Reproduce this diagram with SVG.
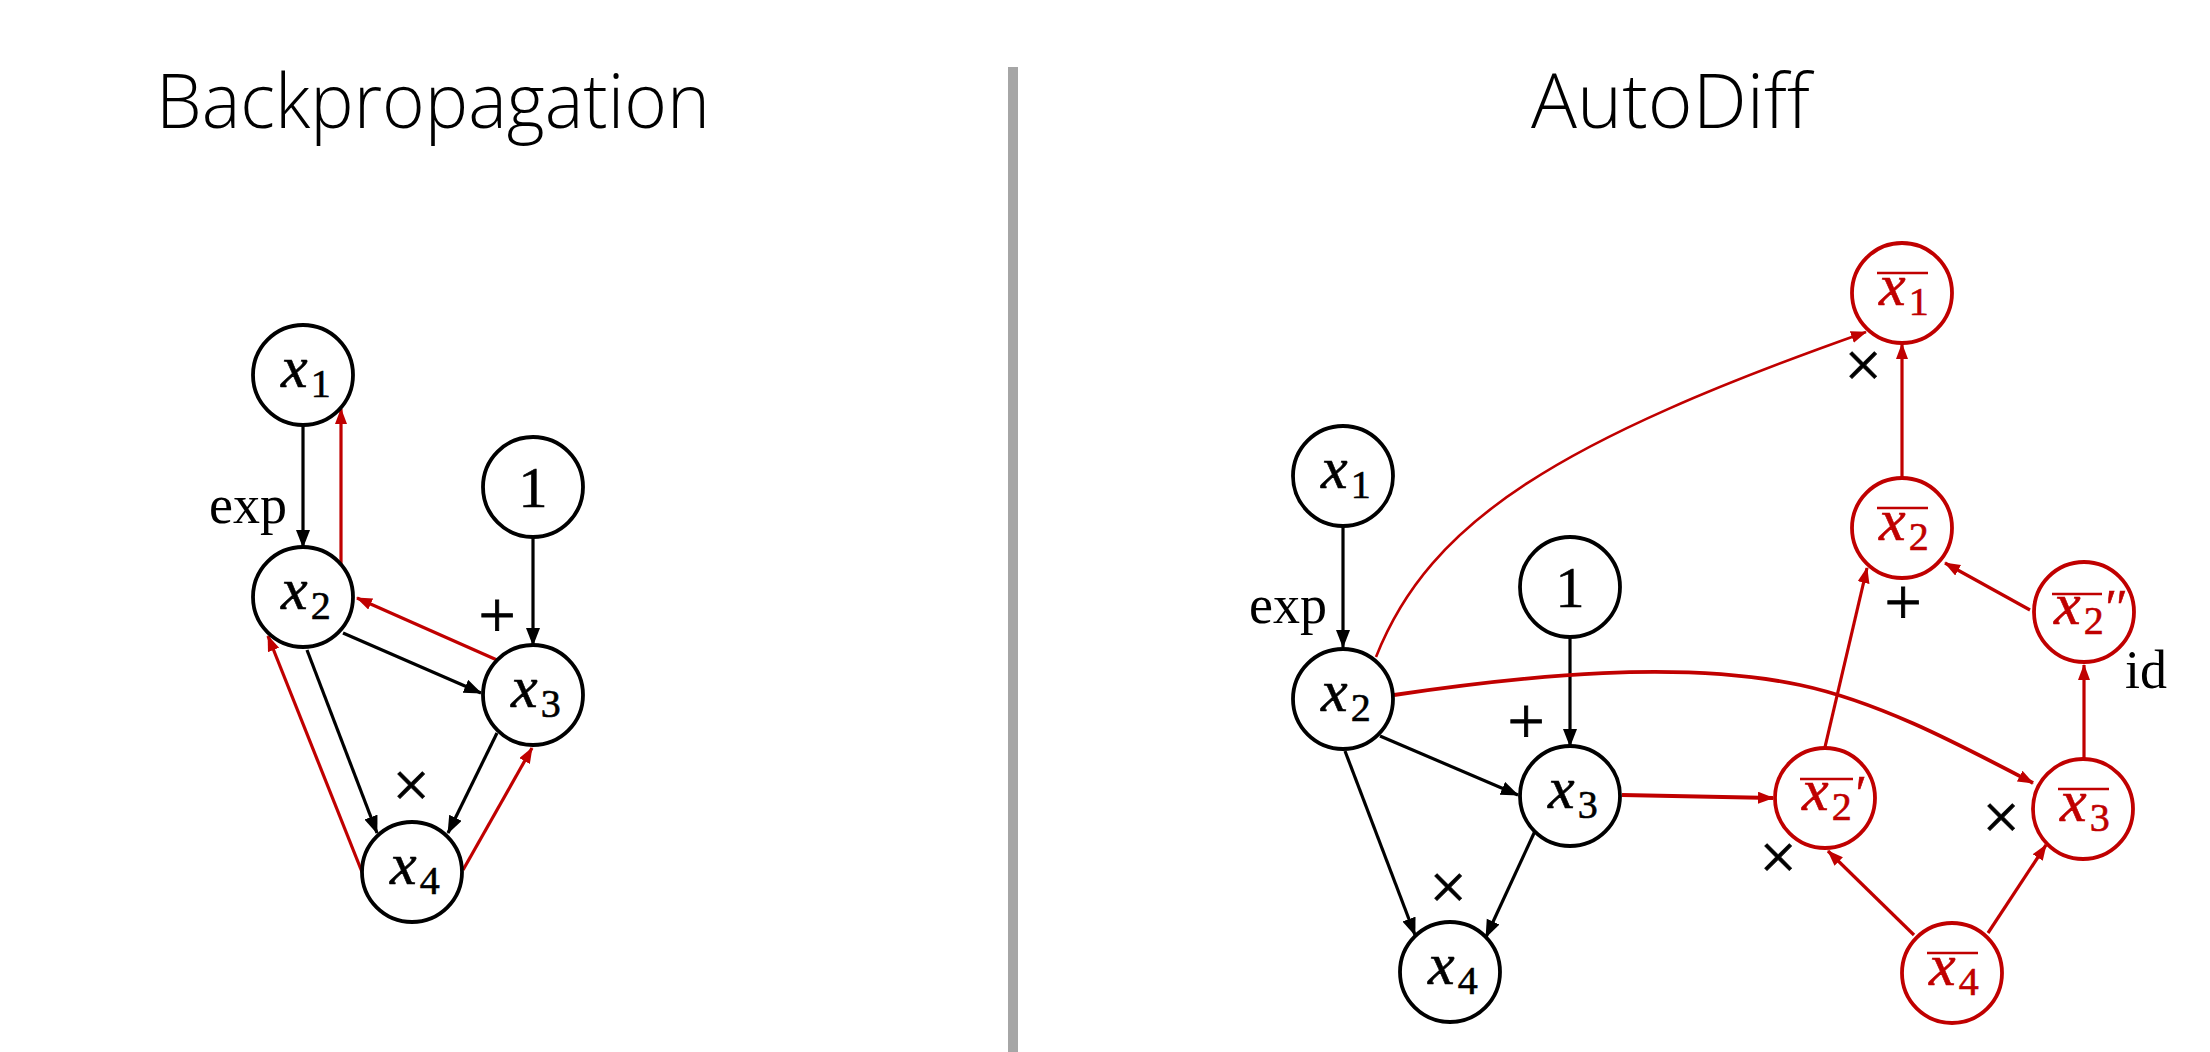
<svg xmlns="http://www.w3.org/2000/svg" width="2210" height="1052" viewBox="0 0 2210 1052">
<style>
.bg{fill:#fff}
.node circle{fill:#fff;stroke:#000;stroke-width:3.8}
.rnode circle{fill:#fff;stroke:#C00000;stroke-width:3.8}
.m{font-family:"Liberation Serif","DejaVu Serif",serif;font-size:60px;fill:#000;stroke:#000;stroke-width:0.6}
.rnode .m{fill:#C00000;stroke:#C00000}
.one{font-size:58px}
.it{font-style:italic}
.sub{font-size:40px;font-style:normal}
.pr{font-size:50px;font-style:normal}
.ov{stroke:#C00000;stroke-width:2.5}
.lbl{font-family:"Liberation Serif","DejaVu Serif",serif;font-size:54px;fill:#000}
.op{font-family:"Liberation Serif","DejaVu Serif",serif;font-size:66px;fill:#000;stroke:#000;stroke-width:0.8;text-anchor:middle}
.title{font-family:"Open Sans","Liberation Sans",sans-serif;font-weight:340;font-size:76px;fill:#000}
.e{fill:none;stroke:#000;stroke-width:3.2;marker-end:url(#ab)}
.r{fill:none;stroke:#C00000;stroke-width:3.2;marker-end:url(#ar)}
</style>
<defs>
<marker id="ab" markerUnits="userSpaceOnUse" markerWidth="20" markerHeight="16" refX="17" refY="7" orient="auto"><path d="M0,0 L18,7 L0,14 z" fill="#000"/></marker>
<marker id="ar" markerUnits="userSpaceOnUse" markerWidth="18" markerHeight="14" refX="15" refY="6" orient="auto"><path d="M0,0 L16,6 L0,12 z" fill="#C00000"/></marker>
</defs>
<rect class="bg" x="0" y="0" width="2210" height="1052"/>
<g id="divider"><rect x="1008" y="67" width="10" height="985" fill="#A6A6A6"/></g>
<g id="titles">
<text class="title" x="156" y="128" textLength="554" lengthAdjust="spacingAndGlyphs">Backpropagation</text>
<text class="title" x="1531" y="128" textLength="279" lengthAdjust="spacingAndGlyphs">AutoDiff</text>
</g>
<g id="connectors">
<path class="e" d="M303,425 L303,547"/>
<path class="r" d="M341,564 L341,409"/>
<path class="e" d="M533,537 L533,645"/>
<path class="e" d="M343,633 L481,693"/>
<path class="r" d="M497,660 L357,598"/>
<path class="e" d="M307,650 L377,833"/>
<path class="r" d="M362,872 L268,636"/>
<path class="e" d="M497,733 L448,833"/>
<path class="r" d="M463,870 L532,748"/>
<path class="e" d="M1343,526 L1343,647"/>
<path class="e" d="M1570,637 L1570,746"/>
<path class="e" d="M1380,736 L1518,795"/>
<path class="e" d="M1345,751 L1415,935"/>
<path class="e" d="M1535,831 L1486,937"/>
<path class="r" style="stroke-width:3.8" d="M1622,795 L1773,798"/>
<path class="r" d="M1825,747 L1867,568"/>
<path class="r" d="M2030,610 L1945,563"/>
<path class="r" d="M1902,478 L1902,344"/>
<path class="r" d="M2084,759 L2084,665"/>
<path class="r" d="M1914,935 L1828,851"/>
<path class="r" d="M1988,933 L2046,845"/>
<path class="r" style="stroke-width:2.6" d="M1376,657 C1430,520 1560,440 1866,332"/>
<path class="r" style="stroke-width:3.8" d="M1394,695 C1530,675 1680,660 1800,685 C1880,702 1960,745 2033,783"/>
</g>
<g id="labels">
<text class="lbl" x="209" y="523">exp</text>
<text class="op" x="497" y="637">+</text>
<text class="op" x="411" y="807">×</text>
<text class="lbl" x="1249" y="623">exp</text>
<text class="op" x="1526" y="743">+</text>
<text class="op" x="1448" y="909">×</text>
<text class="op" x="1863" y="387">×</text>
<text class="op" x="1903" y="624">+</text>
<text class="lbl" x="2125" y="688">id</text>
<text class="op" x="2001" y="839">×</text>
<text class="op" x="1778" y="879">×</text>
</g>
<g id="L_x1" class="node"><circle cx="303" cy="375" r="50"/><text class="m" x="281" y="387"><tspan class="it">x</tspan><tspan class="sub" dx="3" dy="10">1</tspan></text></g>
<g id="L_x2" class="node"><circle cx="303" cy="597" r="50"/><text class="m" x="281" y="609"><tspan class="it">x</tspan><tspan class="sub" dx="3" dy="10">2</tspan></text></g>
<g id="L_one" class="node"><circle cx="533" cy="487" r="50"/><text class="m one" x="533" y="507" text-anchor="middle">1</text></g>
<g id="L_x3" class="node"><circle cx="533" cy="695" r="50"/><text class="m" x="511" y="707"><tspan class="it">x</tspan><tspan class="sub" dx="3" dy="10">3</tspan></text></g>
<g id="L_x4" class="node"><circle cx="412" cy="872" r="50"/><text class="m" x="390" y="884"><tspan class="it">x</tspan><tspan class="sub" dx="3" dy="10">4</tspan></text></g>
<g id="R_x1" class="node"><circle cx="1343" cy="476" r="50"/><text class="m" x="1321" y="488"><tspan class="it">x</tspan><tspan class="sub" dx="3" dy="10">1</tspan></text></g>
<g id="R_x2" class="node"><circle cx="1343" cy="699" r="50"/><text class="m" x="1321" y="711"><tspan class="it">x</tspan><tspan class="sub" dx="3" dy="10">2</tspan></text></g>
<g id="R_one" class="node"><circle cx="1570" cy="587" r="50"/><text class="m one" x="1570" y="607" text-anchor="middle">1</text></g>
<g id="R_x3" class="node"><circle cx="1570" cy="796" r="50"/><text class="m" x="1548" y="808"><tspan class="it">x</tspan><tspan class="sub" dx="3" dy="10">3</tspan></text></g>
<g id="R_x4" class="node"><circle cx="1450" cy="972" r="50"/><text class="m" x="1428" y="984"><tspan class="it">x</tspan><tspan class="sub" dx="3" dy="10">4</tspan></text></g>
<g id="xb1" class="rnode"><circle cx="1902" cy="293" r="50"/><line class="ov" x1="1877" y1="273" x2="1928" y2="273"/><text class="m" x="1879" y="305"><tspan class="it">x</tspan><tspan class="sub" dx="3" dy="10">1</tspan></text></g>
<g id="xb2" class="rnode"><circle cx="1902" cy="528" r="50"/><line class="ov" x1="1877" y1="508" x2="1928" y2="508"/><text class="m" x="1879" y="540"><tspan class="it">x</tspan><tspan class="sub" dx="3" dy="10">2</tspan></text></g>
<g id="xb2pp" class="rnode"><circle cx="2084" cy="612" r="50"/><line class="ov" x1="2052" y1="594" x2="2102" y2="594"/><text class="m" x="2054" y="624"><tspan class="it">x</tspan><tspan class="sub" dx="3" dy="10">2</tspan><tspan class="pr it" dx="2" dy="-10">′′</tspan></text></g>
<g id="xb2p" class="rnode"><circle cx="1825" cy="798" r="50"/><line class="ov" x1="1800" y1="779" x2="1853" y2="779"/><text class="m" x="1802" y="810"><tspan class="it">x</tspan><tspan class="sub" dx="3" dy="10">2</tspan><tspan class="pr it" dx="4" dy="-10">′</tspan></text></g>
<g id="xb3" class="rnode"><circle cx="2083" cy="809" r="50"/><line class="ov" x1="2058" y1="789" x2="2109" y2="789"/><text class="m" x="2060" y="821"><tspan class="it">x</tspan><tspan class="sub" dx="3" dy="10">3</tspan></text></g>
<g id="xb4" class="rnode"><circle cx="1952" cy="973" r="50"/><line class="ov" x1="1927" y1="953" x2="1978" y2="953"/><text class="m" x="1929" y="985"><tspan class="it">x</tspan><tspan class="sub" dx="3" dy="10">4</tspan></text></g>
</svg>
